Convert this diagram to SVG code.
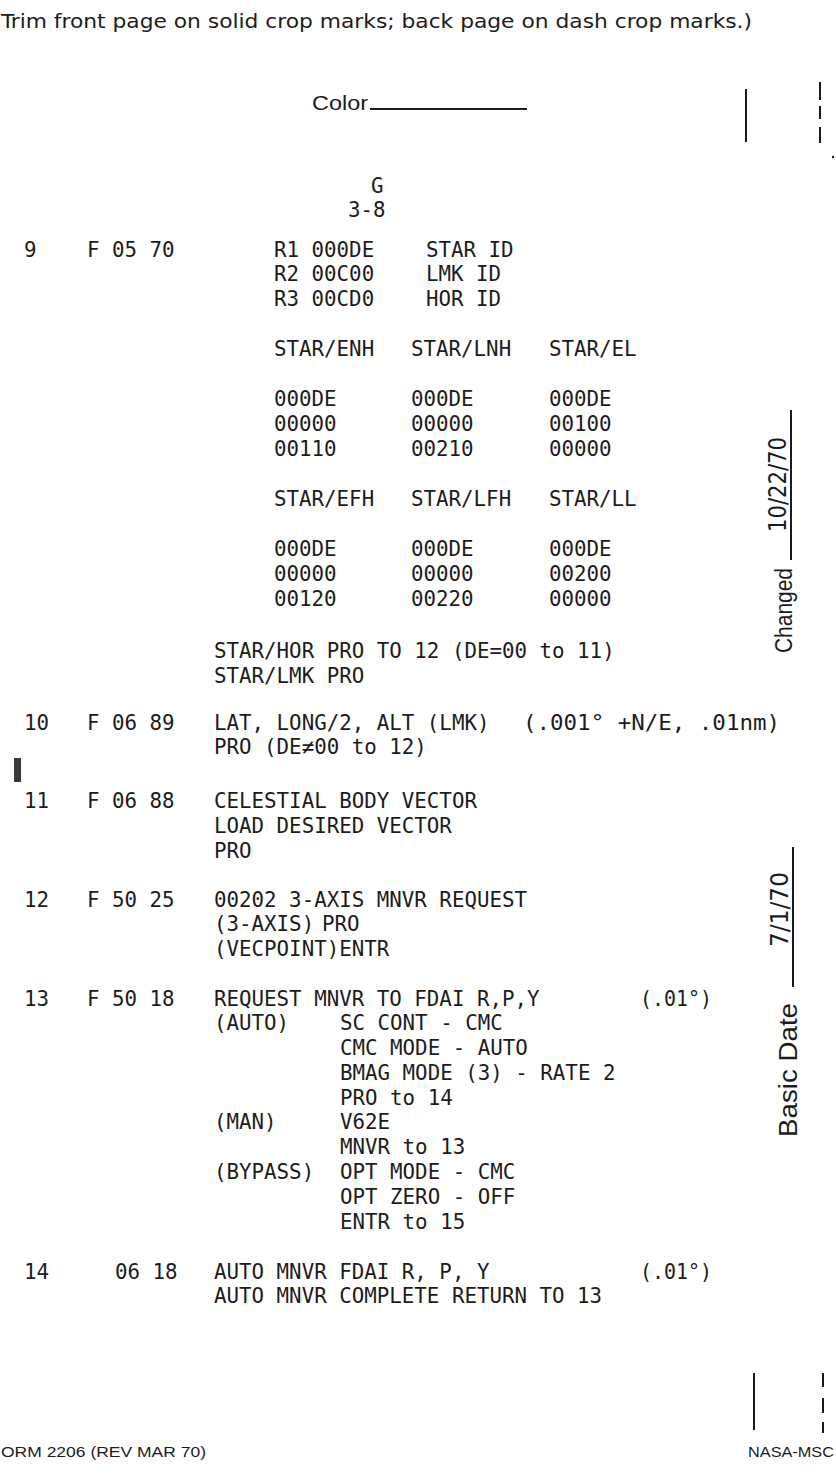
<svg xmlns="http://www.w3.org/2000/svg" width="836" height="1478" viewBox="0 0 836 1478">
<style>
.t{font-family:"DejaVu Sans Mono","Liberation Mono",monospace;font-size:20.8px;fill:#1c1c1c}
.h{font-family:"Liberation Sans",Arial,sans-serif;fill:#1c1c1c}
.c{font-family:"DejaVu Sans Condensed","DejaVu Sans",sans-serif;fill:#1c1c1c}
.ln{stroke:#1c1c1c;stroke-width:2;fill:none}
</style>
<rect width="836" height="1478" fill="#ffffff"/>
<g id="header">
<text class="c" x="1" y="28" font-size="20" textLength="751" lengthAdjust="spacingAndGlyphs">Trim front page on solid crop marks; back page on dash crop marks.)</text>
<text class="h" x="312" y="110" font-size="20" textLength="56" lengthAdjust="spacingAndGlyphs">Color</text>
<line class="ln" x1="370" y1="109" x2="527" y2="109" stroke-width="1.5"/>
</g>
<g id="crop-marks">
<line class="ln" x1="746" y1="89" x2="746" y2="142" stroke-width="2.5"/>
<line class="ln" x1="820" y1="82" x2="820" y2="100" stroke-width="2.5"/>
<line class="ln" x1="820" y1="106" x2="820" y2="119" stroke-width="2.5"/>
<line class="ln" x1="820" y1="127" x2="820" y2="143" stroke-width="2.5"/>
<circle cx="833" cy="157" r="1.2" fill="#1c1c1c"/>
<line class="ln" x1="754" y1="1373" x2="754" y2="1430" stroke-width="2.5"/>
<line class="ln" x1="823" y1="1373" x2="823" y2="1387" stroke-width="2.5"/>
<line class="ln" x1="823" y1="1398" x2="823" y2="1413" stroke-width="2.5"/>
<line class="ln" x1="823" y1="1422" x2="823" y2="1433" stroke-width="2.5"/>
</g>
<g id="page-id">
<text class="t" x="371" y="193">G</text>
<text class="t" x="348" y="217">3-8</text>
</g>
<g id="step-9">
<text class="t" x="24" y="257">9</text>
<text class="t" x="87" y="257">F 05 70</text>
<text class="t" x="274" y="257">R1 000DE</text>
<text class="t" x="426" y="257">STAR ID</text>
<text class="t" x="274" y="281">R2 00C00</text>
<text class="t" x="426" y="281">LMK ID</text>
<text class="t" x="274" y="306">R3 00CD0</text>
<text class="t" x="426" y="306">HOR ID</text>
<text class="t" x="274" y="356">STAR/ENH</text>
<text class="t" x="411" y="356">STAR/LNH</text>
<text class="t" x="549" y="356">STAR/EL</text>
<text class="t" x="274" y="406">000DE</text>
<text class="t" x="411" y="406">000DE</text>
<text class="t" x="549" y="406">000DE</text>
<text class="t" x="274" y="431">00000</text>
<text class="t" x="411" y="431">00000</text>
<text class="t" x="549" y="431">00100</text>
<text class="t" x="274" y="456">00110</text>
<text class="t" x="411" y="456">00210</text>
<text class="t" x="549" y="456">00000</text>
<text class="t" x="274" y="506">STAR/EFH</text>
<text class="t" x="411" y="506">STAR/LFH</text>
<text class="t" x="549" y="506">STAR/LL</text>
<text class="t" x="274" y="556">000DE</text>
<text class="t" x="411" y="556">000DE</text>
<text class="t" x="549" y="556">000DE</text>
<text class="t" x="274" y="581">00000</text>
<text class="t" x="411" y="581">00000</text>
<text class="t" x="549" y="581">00200</text>
<text class="t" x="274" y="606">00120</text>
<text class="t" x="411" y="606">00220</text>
<text class="t" x="549" y="606">00000</text>
<text class="t" x="214" y="658">STAR/HOR PRO TO 12 (DE=00 to 11)</text>
<text class="t" x="214" y="683">STAR/LMK PRO</text>
</g>
<g id="step-10">
<text class="t" x="24" y="730">10</text>
<text class="t" x="87" y="730">F 06 89</text>
<text class="t" x="214" y="730">LAT, LONG/2, ALT (LMK)</text>
<text class="t" x="523" y="730" textLength="257" lengthAdjust="spacingAndGlyphs">(.001° +N/E, .01nm)</text>
<text class="t" x="214" y="754">PRO (DE≠00 to 12)</text>
</g>
<g id="change-bar">
<rect x="14" y="758" width="7" height="24" fill="#3a3a3a"/>
</g>
<g id="step-11">
<text class="t" x="24" y="808">11</text>
<text class="t" x="87" y="808">F 06 88</text>
<text class="t" x="214" y="808">CELESTIAL BODY VECTOR</text>
<text class="t" x="214" y="833">LOAD DESIRED VECTOR</text>
<text class="t" x="214" y="858">PRO</text>
</g>
<g id="step-12">
<text class="t" x="24" y="907">12</text>
<text class="t" x="87" y="907">F 50 25</text>
<text class="t" x="214" y="907">00202 3-AXIS MNVR REQUEST</text>
<text class="t" x="214" y="931">(3-AXIS)</text>
<text class="t" x="322" y="931">PRO</text>
<text class="t" x="214" y="956">(VECPOINT)ENTR</text>
</g>
<g id="step-13">
<text class="t" x="24" y="1006">13</text>
<text class="t" x="87" y="1006">F 50 18</text>
<text class="t" x="214" y="1006">REQUEST MNVR TO FDAI R,P,Y</text>
<text class="t" x="640" y="1006" textLength="72" lengthAdjust="spacingAndGlyphs">(.01°)</text>
<text class="t" x="214" y="1030">(AUTO)</text>
<text class="t" x="340" y="1030">SC CONT - CMC</text>
<text class="t" x="340" y="1055">CMC MODE - AUTO</text>
<text class="t" x="340" y="1080">BMAG MODE (3) - RATE 2</text>
<text class="t" x="340" y="1105">PRO to 14</text>
<text class="t" x="214" y="1129">(MAN)</text>
<text class="t" x="340" y="1129">V62E</text>
<text class="t" x="340" y="1154">MNVR to 13</text>
<text class="t" x="214" y="1179">(BYPASS)</text>
<text class="t" x="340" y="1179">OPT MODE - CMC</text>
<text class="t" x="340" y="1204">OPT ZERO - OFF</text>
<text class="t" x="340" y="1229">ENTR to 15</text>
</g>
<g id="step-14">
<text class="t" x="24" y="1279">14</text>
<text class="t" x="115" y="1279">06 18</text>
<text class="t" x="214" y="1279">AUTO MNVR FDAI R, P, Y</text>
<text class="t" x="640" y="1279" textLength="72" lengthAdjust="spacingAndGlyphs">(.01°)</text>
<text class="t" x="214" y="1303">AUTO MNVR COMPLETE RETURN TO 13</text>
</g>
<g id="margin-dates">
<text class="h" x="792" y="653" font-size="23" textLength="85" lengthAdjust="spacingAndGlyphs" transform="rotate(-90 792 653)">Changed</text>
<line class="ln" x1="791" y1="410" x2="791" y2="560" stroke-width="1.6"/>
<text class="c" x="786" y="532" font-size="24" textLength="95" lengthAdjust="spacingAndGlyphs" transform="rotate(-90 786 532)">10/22/70</text>
<text class="h" x="797" y="1137" font-size="26" textLength="134" lengthAdjust="spacingAndGlyphs" transform="rotate(-90 797 1137)">Basic Date</text>
<line class="ln" x1="793" y1="847" x2="793" y2="987" stroke-width="1.6"/>
<text class="c" x="788" y="947" font-size="24" textLength="75" lengthAdjust="spacingAndGlyphs" transform="rotate(-90 788 947)">7/1/70</text>
</g>
<g id="footer">
<text class="h" x="1" y="1457" font-size="15.5" textLength="205" lengthAdjust="spacingAndGlyphs">ORM 2206 (REV MAR 70)</text>
<text class="h" x="748" y="1457" font-size="15" textLength="86" lengthAdjust="spacingAndGlyphs">NASA-MSC</text>
</g>
</svg>
